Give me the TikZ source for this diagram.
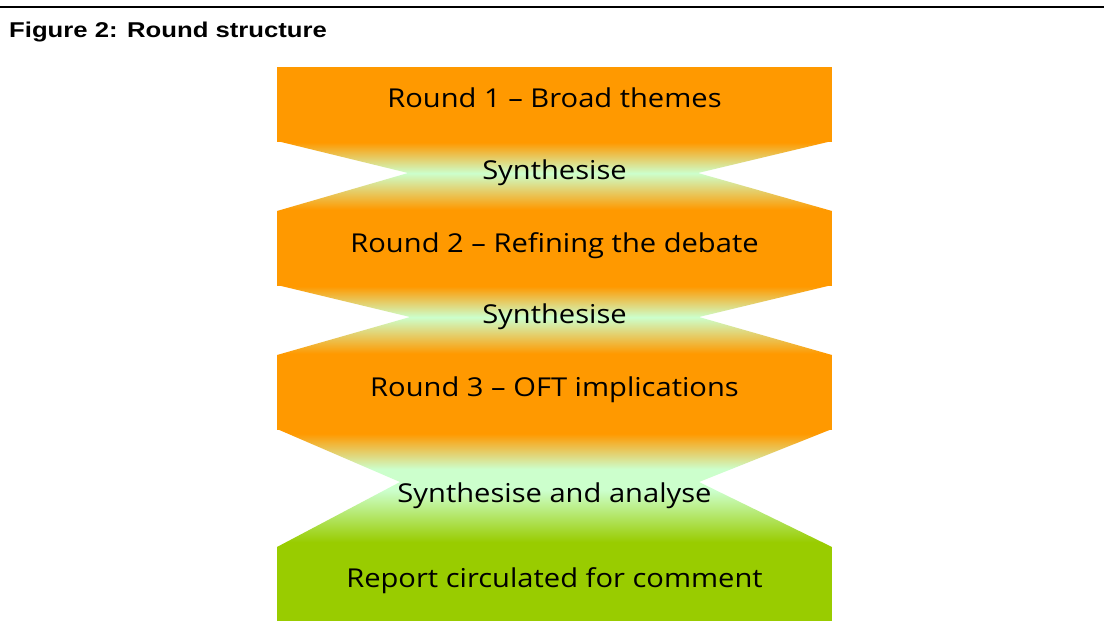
\documentclass[tikz,border=0pt]{standalone}
\usepackage{fontspec}
\setmainfont{Open Sans}[FakeStretch=1.12]
\newfontfamily\titlefont{Liberation Sans}[FakeStretch=1.2]
\definecolor{roundorange}{HTML}{FF9900}
\definecolor{synthgreen}{HTML}{CCFFCC}
\definecolor{reportgreen}{HTML}{99CC00}
% orange -> pale green -> orange band between two rounds
\pgfdeclareverticalshading{synthband}{100bp}{color(0bp)=(roundorange); color(26bp)=(roundorange); color(52bp)=(synthgreen); color(74bp)=(roundorange); color(100bp)=(roundorange)}
% orange -> pale green -> report green band before the report
\pgfdeclareverticalshading{analyseband}{100bp}{color(0bp)=(reportgreen); color(27bp)=(reportgreen); color(49bp)=(synthgreen); color(58bp)=(synthgreen); color(73bp)=(roundorange); color(100bp)=(roundorange)}
\begin{document}
\begin{tikzpicture}[x=1pt,y=-1pt,
  steptext/.style={anchor=base, font=\fontsize{26}{30}\selectfont, inner sep=0pt},
  titletext/.style={anchor=base west, font=\titlefont\bfseries\fontsize{21.4}{25}\selectfont, inner sep=0pt}]
\useasboundingbox (0,0) rectangle (1104,626);
\fill[white] (0,0) rectangle (1104,626);
% rule and caption
\draw[line width=2.6pt] (0,7) -- (1104,7);
\node[titletext] (title) at (9,37.5) {Figure 2: Round structure};
% synthesis bands (notched)
\shade[shading=synthband] (277,141) -- (832,141) -- (698,173) -- (832,211) -- (277,211) -- (408,173) -- cycle;
\shade[shading=synthband] (277,285) -- (832,285) -- (699,317) -- (832,355) -- (277,355) -- (410,317) -- cycle;
\shade[shading=analyseband] (277,429) -- (832,429) -- (699,482) -- (832,547) -- (277,547) -- (400,482) -- cycle;
% round blocks
\fill[roundorange] (277,67) rectangle (832,141.5);
\fill[roundorange] (277,210.5) rectangle (832,285.5);
\fill[roundorange] (277,354.5) rectangle (832,429.5);
\fill[reportgreen] (277,546.5) rectangle (832,621);
% labels
\node[steptext] (r1) at (554.5,107) {Round 1 -- Broad themes};
\node[steptext] (s1) at (554.5,179) {Synthesise};
\node[steptext] (r2) at (554.5,252) {Round 2 -- Refining the debate};
\node[steptext] (s2) at (554.5,323) {Synthesise};
\node[steptext] (r3) at (554.5,396) {Round 3 -- OFT implications};
\node[steptext] (s3) at (554.5,502) {Synthesise and analyse};
\node[steptext] (rep) at (554.5,587) {Report circulated for comment};
\end{tikzpicture}
\end{document}
